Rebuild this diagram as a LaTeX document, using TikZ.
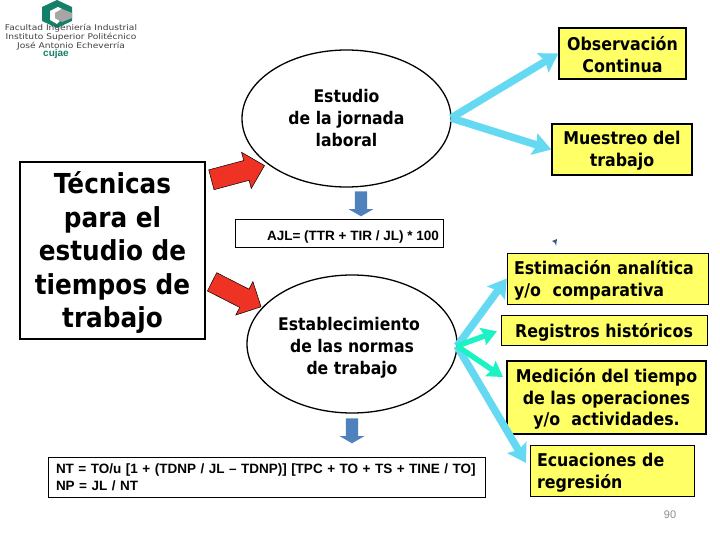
\documentclass[tikz,border=0pt]{standalone}
\usepackage{fontspec}
\usepackage{tikz}
\usepackage{xcolor}
\usetikzlibrary{shapes.geometric,shapes.arrows,arrows.meta}
\setmainfont{DejaVu Sans}
\newfontfamily\arialfont{Liberation Sans}
\newfontfamily\heavyfont[FakeStretch=0.9]{DejaVu Sans Bold}
\newfontfamily\logofont[FakeStretch=1.15]{DejaVu Sans}
\newcommand{\firstline}[1]{\rule{0pt}{#1}}
\definecolor{boxyellow}{HTML}{FFFF66}
\definecolor{skyarrow}{HTML}{66D9F2}
\definecolor{mintarrow}{HTML}{1CF2C4}
\definecolor{redarrow}{HTML}{EE3224}
\definecolor{bluearrow}{HTML}{4F81BD}
\definecolor{logogreen}{HTML}{15806A}
\tikzset{
  yellowbox/.style={draw=black,fill=boxyellow,align=center,inner sep=0pt,font=\fontsize{17.6}{21.5}\heavyfont},
  plainbox/.style={draw=black,fill=white,inner sep=0pt},
  talk/.style={draw=black,fill=white,ellipse,line width=1.3pt,inner sep=0pt,align=center,font=\fontsize{17.4}{22}\heavyfont},
  redblock/.style={single arrow,draw=black,line width=0.5pt,fill=redarrow,inner xsep=0pt,inner ysep=10pt,minimum height=55pt,single arrow head extend=8.5pt},
  blueblock/.style={single arrow,fill=bluearrow,inner xsep=0pt,inner ysep=6pt,minimum height=25pt,single arrow head extend=6pt,single arrow tip angle=120,rotate=-90},
  skyline/.style={draw=skyarrow,line width=7.5pt,-{Stealth[length=18pt,width=22pt,inset=3pt]}},
  mintline/.style={draw=mintarrow,line width=5.5pt,-{Stealth[length=15pt,width=18pt,inset=2pt]}},
}
\begin{document}
\begin{tikzpicture}[x=1pt,y=-1pt]
    \useasboundingbox (0,0) rectangle (720,540);
    % logo
    \fill [logogreen] (57,0)--(72,7)--(72,21)--(57,28)--(42,21)--(42,7)--cycle;
    \fill [white] (50,11)--(58,7)--(62,9)--(55,13)--(55,18)--(60,21)--(57,24)--(50,20)--cycle;
    \fill [gray!70] (55,13)--(62,9)--(72,13)--(72,18)--(62,22)--(55,18)--cycle;
    \node [font=\fontsize{7.9}{6.6}\logofont,text=black!75,align=center,inner sep=0pt] (logotext) at (71,37) {Facultad Ingeniería Industrial\\ Instituto Superior Politécnico\\ José Antonio Echeverría};
    \node [font=\fontsize{10}{10}\arialfont\bfseries,text=logogreen,inner sep=0pt] (cujae) at (56,54) {cujae};

    % left column
    \node [draw=black,line width=1.3pt,fill=white,minimum width=185pt,minimum height=177pt,inner sep=0pt,align=center,font=\fontsize{27.5}{33.5}\heavyfont] (tecnicas) at (112.5,250.5) {\firstline{26pt}Técnicas\\ para el\\ estudio de\\ tiempos de\\ trabajo};

    % middle column
    \node [talk,minimum width=209pt,minimum height=137pt] (estudio) at (346.5,118.5) {Estudio\\ de la jornada\\ laboral};
    \node [talk,minimum width=210pt,minimum height=138pt] (normas) at (352,344) {\firstline{20pt}Establecimiento\hspace*{6pt}\\ de las normas\hspace*{6pt}\\ de trabajo};
    \node [plainbox,minimum width=208pt,minimum height=28pt,font=\fontsize{13.5}{14}\arialfont\bfseries] (ajl) at (339,233) {\hspace*{28pt}\firstline{17pt}AJL= (TTR + TIR / JL) * 100};
    \node [plainbox,minimum width=437pt,minimum height=40pt,align=left,text width=421pt,font=\fontsize{13.5}{17}\arialfont\bfseries] (nt) at (266.5,477) {NT = TO/u [1 + (TDNP / JL – TDNP)] [TPC + TO + TS + TINE / TO]\\ NP = JL / NT};
    \node [redblock,rotate=15] (redA) at (233,174) {};
    \node [redblock,rotate=-27] (redB) at (232,292) {};
    \node [blueblock] (blueA) at (361,202) {};
    \node [blueblock] (blueB) at (352,429) {};

    % right column
    \node [yellowbox,line width=1.3pt,minimum width=127pt,minimum height=51pt] (continua) at (622.5,53.5) {\firstline{16pt}Observación\\ Continua};
    \node [yellowbox,line width=1.3pt,minimum width=140pt,minimum height=51pt] (muestreo) at (622,149.5) {\firstline{16pt}Muestreo del\\ trabajo};
    \node [yellowbox,line width=0.6pt,minimum width=201pt,minimum height=51pt,text width=187pt,align=left] (estimacion) at (607.5,278.5) {\firstline{18pt}Estimación analítica\\ y/o\ \ comparativa};
    \node [yellowbox,line width=0.6pt,minimum width=206pt,minimum height=30pt] (registros) at (604,330) {\firstline{19pt}Registros históricos};
    \node [yellowbox,line width=1.3pt,minimum width=199pt,minimum height=73pt] (medicion) at (606.5,397.5) {\firstline{17pt}Medición del tiempo\\ de las operaciones\\ y/o\ \ actividades.};
    \node [yellowbox,line width=0.6pt,minimum width=164pt,minimum height=51pt,text width=150pt,align=left] (ecuaciones) at (612,470.5) {\firstline{18pt}Ecuaciones de\\ regresión};

    \node [text=black!45,font=\fontsize{11}{11}\arialfont,inner sep=0pt] (pagina) at (670,515) {90};

    % connectors
    \coordinate (hubA) at (451,118);
    \coordinate (hubB) at (457,346);
    \coordinate (medtip) at (503,377);
    \coordinate (ecutip) at (526,463);
    \draw [skyline] (hubA)--(continua.west);
    \draw [skyline] (hubA)--(muestreo.west);
    \draw [skyline] (hubB)--(estimacion.west);
    \draw [skyline] (hubB)--(ecutip);
    \draw [mintline,shorten >=4pt] (hubB)--(registros.west);
    \draw [mintline] (hubB)--(medtip);

    % stray mark
    \fill [bluearrow!70!black] (552,241)--(557,239)--(556,246)--(555,243)--cycle;
\end{tikzpicture}
\end{document}
